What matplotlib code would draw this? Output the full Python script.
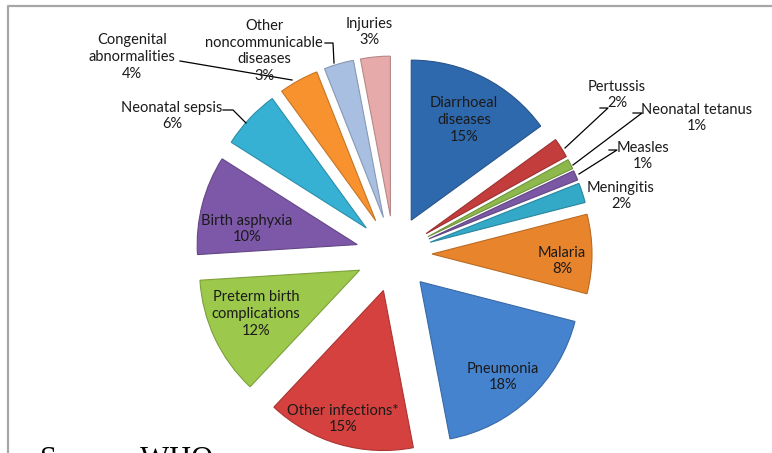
import matplotlib.pyplot as plt
import matplotlib.colors as mcolors

# causes of death among children under 5 (WHO)
causes = ['Diarrhoeal diseases', 'Pertussis', 'Neonatal tetanus', 'Measles',
          'Meningitis', 'Malaria', 'Pneumonia', 'Other infections*',
          'Preterm birth complications', 'Birth asphyxia', 'Neonatal sepsis',
          'Congenital abnormalities', 'Other noncommunicable diseases', 'Injuries']
shares = [15, 2, 1, 1, 2, 8, 18, 15, 12, 10, 6, 4, 3, 3]
label_text = ['Diarrhoeal\ndiseases', 'Pertussis', 'Neonatal tetanus', 'Measles',
              'Meningitis', 'Malaria', 'Pneumonia', 'Other infections*',
              'Preterm birth\ncomplications', 'Birth asphyxia', 'Neonatal sepsis',
              'Congenital\nabnormalities', 'Other\nnoncommunicable\ndiseases', 'Injuries']
colors = ['#2F69AD', '#C23D3B', '#8DB94C', '#7B58A3', '#33A8C7', '#E8852C',
          '#4683CF', '#D5413F', '#9CC84B', '#7D58A8', '#36B1D4', '#F7922F',
          '#A9BFE1', '#E6AAAA']

W, H = 772, 453
fig = plt.figure(figsize=(W / 100, H / 100), dpi=100)
ax = fig.add_axes([0, 0, 1, 1])

cx, cy, r = 394, H - 254, 160
edge = [mcolors.to_hex([c * 0.8 for c in mcolors.to_rgb(col)]) for col in colors]
# explode is in data units here (radius is in pixels)
wedges, _ = ax.pie(shares, explode=[38] * len(shares), radius=r, center=(cx, cy),
                   startangle=90, counterclock=False, colors=colors,
                   wedgeprops=dict(linewidth=0.8))
for w, e in zip(wedges, edge):
    w.set_edgecolor(e)

ax.set_xlim(0, W)
ax.set_ylim(0, H)
ax.set_aspect('equal')
ax.axis('off')

# label centres in picture pixels (x, y from top)
pos = [(464, 120), (617, 95), (697, 118), (643, 156), (621, 196), (562, 261),
       (503, 377), (343, 419), (256, 314), (247, 229), (172, 116), (132, 57),
       (264, 51), (369, 32)]
font = ['Lato', 'DejaVu Sans']
for txt, p, s in zip(label_text, pos, shares):
    ax.text(p[0], H - p[1], f'{txt}\n{s}%', ha='center', va='center',
            fontsize=10.5, family=font, color='#1a1a1a', linespacing=1.25)

# leader lines
leaders = [
    [(180, 61), (292, 80)],
    [(325, 43), (333, 43), (334, 63)],
    [(223, 110), (233, 110), (246, 123)],
    [(600, 108), (608, 108), (565, 148)],
    [(633, 113), (642, 113), (573, 165)],
    [(609, 150), (617, 150), (579, 174)],
]
for pts in leaders:
    ax.plot([p[0] for p in pts], [H - p[1] for p in pts], color='black', lw=0.9)

# chart border
ax.plot([8, 8, W], [0, H - 6, H - 6], color='#A6A6A6', lw=1.6, clip_on=False)

ax.text(40, H - 446, 'Source: WHO', ha='left', va='top', fontsize=22,
        family='Liberation Serif', color='black')

fig.savefig('out.png', dpi=100)
